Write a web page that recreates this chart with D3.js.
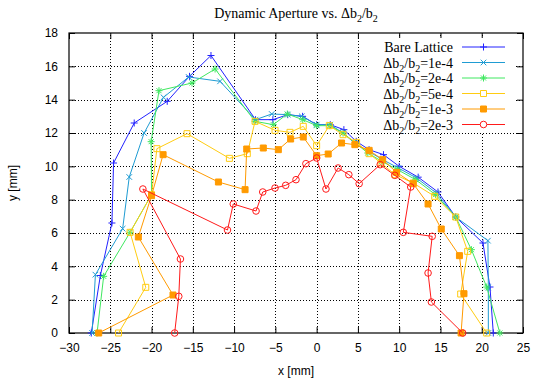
<!DOCTYPE html>
<html lang="en">
<head>
  <meta charset="UTF-8">
  <title>Dynamic Aperture vs. db2/b2</title>
  <script src="https://d3js.org/d3.v7.min.js"></script>
  <style>
    body { margin: 0; background: #fff; }
    text { font-family: "Liberation Serif", "DejaVu Serif", serif; }
  </style>
</head>
<body>
  <div id="chart"></div>
  <script>
    // series labels (value part after "Δb2/b2=")
    const seriesNames = ["Bare Lattice", "1e-4", "2e-4", "5e-4", "1e-3", "2e-3"];

    const xTicks = [-30, -25, -20, -15, -10, -5, 0, 5, 10, 15, 20, 25];
    const yTicks = [0, 2, 4, 6, 8, 10, 12, 14, 16, 18];

    // aperture points, x [mm] / y [mm]
    const bareX = [-27.3, -26.2, -24.8, -24.6, -22.1, -18.1, -15.4, -12.8, -7.4, -5.3, -3.5, -1.7, 0, 1.65, 3.3, 4.8, 6.35, 8.1, 10.0, 12.3, 14.7, 16.85, 20.15, 21.0, 21.4];
    const bareY = [0, 3.45, 6.6, 10.2, 12.6, 13.9, 15.4, 16.65, 12.8, 12.8, 13.1, 13.0, 12.5, 12.5, 12.2, 11.5, 11.0, 10.7, 10.0, 9.35, 8.46, 6.96, 5.4, 2.76, 0];

    const e4X = [-27.2, -26.8, -23.5, -22.7, -20.9, -18.55, -15.5, -11.7, -7.4, -5.44, -3.5, -1.8, 0, 1.65, 3.2, 4.7, 6.3, 8.0, 9.9, 12.1, 14.5, 16.85, 20.75, 20.8, 20.8];
    const e4Y = [0, 3.5, 6.26, 9.36, 12.0, 14.14, 15.36, 15.1, 12.8, 13.14, 13.1, 13.0, 12.5, 12.5, 12.0, 11.35, 10.9, 10.4, 9.9, 9.3, 8.4, 6.96, 5.54, 2.74, 0];

    const e2X = [-26.6, -25.8, -22.6, -20.0, -20.05, -19.1, -15.1, -12.3, -7.46, -5.25, -3.55, -1.68, 0, 1.6, 3.2, 4.7, 6.2, 7.9, 9.8, 12.0, 14.4, 16.85, 18.75, 20.6, 22.2];
    const e2Y = [0, 3.4, 6.04, 8.3, 11.48, 14.54, 15.0, 15.84, 12.7, 12.5, 13.14, 12.8, 12.44, 12.44, 12.0, 11.4, 10.8, 10.3, 9.8, 9.2, 8.3, 6.96, 5.0, 2.76, 0];

    const e5X = [-24.0, -20.7, -22.6, -20.0, -19.35, -15.7, -10.57, -8.4, -7.46, -5.04, -3.23, -1.62, 0, 1.53, 3.2, 4.84, 6.36, 7.8, 9.5, 11.7, 14.3, 16.85, 18.3, 17.45, 20.6];
    const e5Y = [0, 2.74, 6.04, 8.3, 11.06, 11.96, 10.48, 10.76, 12.7, 12.16, 12.04, 12.4, 11.24, 12.44, 11.9, 11.44, 10.76, 10.2, 9.5, 9.0, 8.2, 6.96, 4.9, 2.34, 0];

    const e3X = [-26.4, -17.4, -21.6, -20.0, -18.6, -11.9, -8.67, -8.47, -6.46, -4.64, -3.15, -1.62, 0, 1.4, 3.02, 4.63, 6.36, 8.0, 9.68, 11.7, 13.5, 15.1, 17.3, 17.85, 17.5];
    const e3Y = [0, 2.28, 5.76, 8.24, 10.7, 9.06, 8.6, 11.04, 11.1, 11.0, 11.64, 11.76, 10.64, 10.74, 11.4, 11.3, 10.96, 10.4, 9.64, 8.96, 7.74, 6.24, 4.64, 2.36, 0];

    const e23X = [-17.2, -16.7, -16.5, -21.05, -10.8, -10.1, -7.34, -6.53, -5.04, -3.75, -2.5, -1.3, 0, 1.13, 2.6, 3.9, 5.15, 7.7, 9.47, 11.4, 10.5, 14.0, 13.5, 13.9, 17.7];
    const e23Y = [0, 2.2, 4.44, 8.64, 6.18, 7.74, 7.32, 8.46, 8.7, 8.86, 9.2, 10.16, 10.5, 8.64, 9.9, 9.5, 8.96, 10.1, 9.46, 8.76, 6.04, 5.8, 3.6, 1.86, 0];

    const width = 533;
    const height = 383;
    const margin = {top: 33, right: 10, bottom: 50, left: 69};

    const colors = ["#2222ff", "#1f9cd3", "#3fe860", "#ffcc11", "#ff9a00", "#ff1a1a"];
    const markers = ["plus", "cross", "star", "square", "fsquare", "circle"];

    const series = [
      {x: bareX, y: bareY}, {x: e4X, y: e4Y}, {x: e2X, y: e2Y},
      {x: e5X, y: e5Y}, {x: e3X, y: e3Y}, {x: e23X, y: e23Y}
    ].map(function(s, i) {
      return {
        name: seriesNames[i],
        color: colors[i],
        marker: markers[i],
        points: s.x.map(function(v, j) { return [v, s.y[j]]; })
      };
    });

    const svg = d3.select("#chart")
      .append("svg")
      .attr("width", width)
      .attr("height", height);

    const x = d3.scaleLinear().domain([-30, 25]).range([margin.left, width - margin.right]);
    const y = d3.scaleLinear().domain([0, 18]).range([height - margin.bottom, margin.top]);

    // grid
    const grid = svg.append("g")
      .attr("stroke", "#000")
      .attr("stroke-width", 1)
      .attr("stroke-dasharray", "1,2");
    grid.selectAll(".gx")
      .data(xTicks.slice(1, -1))
      .enter()
      .append("line")
      .attr("x1", d => Math.round(x(d)) + 0.5)
      .attr("x2", d => Math.round(x(d)) + 0.5)
      .attr("y1", y(0))
      .attr("y2", y(18));
    grid.selectAll(".gy")
      .data(yTicks.slice(1, -1))
      .enter()
      .append("line")
      .attr("y1", d => Math.round(y(d)) + 0.5)
      .attr("y2", d => Math.round(y(d)) + 0.5)
      .attr("x1", x(-30))
      .attr("x2", x(25));

    // axes with inward ticks on all sides
    const tickFont = function(g) {
      g.select(".domain").remove();
      g.selectAll("text")
        .style("font-family", "'Liberation Sans', Arial, sans-serif")
        .style("font-size", "12px")
        .attr("fill", "#000");
    };
    svg.append("g")
      .attr("transform", "translate(0," + y(0) + ")")
      .call(d3.axisBottom(x).tickValues(xTicks).tickSize(-6).tickPadding(10).tickFormat(d3.format("d")))
      .call(tickFont);
    svg.append("g")
      .attr("transform", "translate(0," + y(18) + ")")
      .call(d3.axisTop(x).tickValues(xTicks).tickSize(-6).tickFormat(""))
      .call(tickFont);
    svg.append("g")
      .attr("transform", "translate(" + x(-30) + ",0)")
      .call(d3.axisLeft(y).tickValues(yTicks).tickSize(-6).tickPadding(11))
      .call(tickFont);
    svg.append("g")
      .attr("transform", "translate(" + x(25) + ",0)")
      .call(d3.axisRight(y).tickValues(yTicks).tickSize(-6).tickFormat(""))
      .call(tickFont);

    svg.append("rect")
      .attr("x", x(-30))
      .attr("y", y(18))
      .attr("width", x(25) - x(-30))
      .attr("height", y(0) - y(18))
      .attr("fill", "none")
      .attr("stroke", "#000")
      .attr("stroke-width", 1.2);

    // legend box (opaque, covers grid)
    const legendTop = 47;
    const legendStep = 15.5;
    svg.append("rect")
      .attr("x", 368)
      .attr("y", 38)
      .attr("width", 148)
      .attr("height", 95)
      .attr("fill", "#fff");

    function markerPath(type) {
      if (type === "plus") return "M-3.5,0H3.5M0,-3.5V3.5";
      if (type === "cross") return "M-2.8,-2.8L2.8,2.8M-2.8,2.8L2.8,-2.8";
      if (type === "star") return "M-3.5,0H3.5M0,-3.5V3.5M-2.5,-2.5L2.5,2.5M-2.5,2.5L2.5,-2.5";
      if (type === "square" || type === "fsquare") return "M-3,-3H3V3H-3Z";
      return d3.arc()({innerRadius: 0, outerRadius: 3.3, startAngle: 0, endAngle: 2 * Math.PI});
    }
    function markerFill(s) {
      if (s.marker === "fsquare") return s.color;
      if (s.marker === "square" || s.marker === "circle") return "#fff";
      return "none";
    }

    const line = d3.line()
      .x(d => x(d[0]))
      .y(d => y(d[1]));

    series.forEach(function(s, i) {
      svg.append("path")
        .datum(s.points)
        .attr("d", line)
        .attr("fill", "none")
        .attr("stroke", s.color)
        .attr("stroke-width", 1);

      svg.selectAll(".m" + i)
        .data(s.points)
        .enter()
        .append("path")
        .attr("transform", d => "translate(" + x(d[0]) + "," + y(d[1]) + ")")
        .attr("d", markerPath(s.marker))
        .attr("fill", markerFill(s))
        .attr("fill-opacity", s.marker === "square" || s.marker === "circle" ? 0 : 1)
        .attr("stroke", s.color)
        .attr("stroke-width", 1);

      // legend entry
      const ly = legendTop + i * legendStep;
      const t = svg.append("text")
        .attr("x", 453)
        .attr("y", ly + 5)
        .attr("text-anchor", "end")
        .style("font-size", "14px");
      if (i === 0) {
        t.text(s.name);
      } else {
        t.append("tspan").text("Δb");
        t.append("tspan").attr("dy", 4).style("font-size", "10px").text("2");
        t.append("tspan").attr("dy", -4).text("/b");
        t.append("tspan").attr("dy", 4).style("font-size", "10px").text("2");
        t.append("tspan").attr("dy", -4).text("=" + s.name);
      }
      svg.append("line")
        .attr("x1", 462)
        .attr("x2", 505)
        .attr("y1", ly)
        .attr("y2", ly)
        .attr("stroke", s.color);
      svg.append("path")
        .attr("transform", "translate(483.5," + ly + ")")
        .attr("d", markerPath(s.marker))
        .attr("fill", s.marker === "fsquare" ? s.color : "#fff")
        .attr("stroke", s.color);
    });

    // title and axis labels
    const title = svg.append("text")
      .attr("x", (x(-30) + x(25)) / 2)
      .attr("y", 18)
      .attr("text-anchor", "middle")
      .style("font-size", "14px");
    title.append("tspan").text("Dynamic Aperture vs. Δb");
    title.append("tspan").attr("dy", 4).style("font-size", "10px").text("2");
    title.append("tspan").attr("dy", -4).text("/b");
    title.append("tspan").attr("dy", 4).style("font-size", "10px").text("2");

    svg.append("text")
      .attr("x", (x(-30) + x(25)) / 2)
      .attr("y", 375)
      .attr("text-anchor", "middle")
      .style("font-family", "'Liberation Sans', Arial, sans-serif")
      .style("font-size", "12px")
      .text("x [mm]");

    svg.append("text")
      .attr("transform", "translate(17," + (y(9)) + ") rotate(-90)")
      .attr("text-anchor", "middle")
      .style("font-family", "'Liberation Sans', Arial, sans-serif")
      .style("font-size", "12px")
      .text("y [mm]");
  </script>
</body>
</html>
